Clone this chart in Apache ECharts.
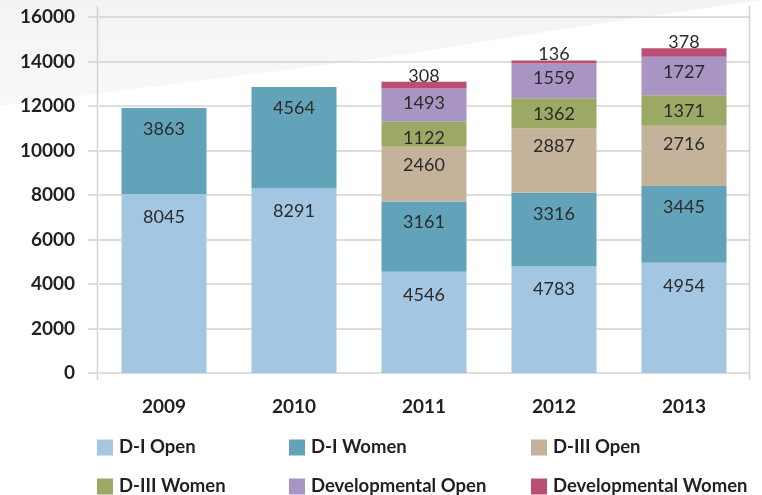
<!DOCTYPE html>
<html>
<head>
<meta charset="utf-8">
<script src="https://cdn.jsdelivr.net/npm/echarts@6/dist/echarts.min.js"></script>
<style>
  html, body { margin: 0; padding: 0; background: #ffffff; }
  #chart { width: 762px; height: 495px; }
</style>
</head>
<body>
<div id="chart"></div>
<script>
// data
const years = ["2009", "2010", "2011", "2012", "2013"];
const d1Open = [8045, 8291, 4546, 4783, 4954];
const d1Women = [3863, 4564, 3161, 3316, 3445];
const d3Open = [null, null, 2460, 2887, 2716];
const d3Women = [null, null, 1122, 1362, 1371];
const devOpen = [null, null, 1493, 1559, 1727];
const devWomen = [null, null, 308, 136, 378];
const yTicks = [0, 2000, 4000, 6000, 8000, 10000, 12000, 14000, 16000];

const font = "Lato, 'Open Sans', sans-serif";
const gridColor = "#d2d2d2";

const myChart = echarts.init(document.getElementById("chart"));

// one stacked bar series, label inside near the top of its block
const makeSeries = (name, data, color, dist) => ({
    name: name,
    type: "bar",
    stack: "total",
    barWidth: 85,
    data: data,
    itemStyle: { color: color },
    label: {
        show: true,
        position: "insideTop",
        distance: dist,
        color: "#2b2b2b",
        fontFamily: font,
        fontSize: 18,
        fontWeight: 400
    },
    emphasis: { disabled: true }
});

const devWomenSeries = makeSeries("Developmental Women", devWomen, "#B94F72", 0);
devWomenSeries.label.position = "top";
devWomenSeries.label.distance = -3;

// legend is laid out like a 3x2 table, one small legend per cell
const legendCell = (name, left, top) => ({
    left: left,
    top: top,
    padding: 0,
    itemWidth: 16,
    itemHeight: 16,
    icon: "rect",
    selectedMode: false,
    data: [name],
    textStyle: {
        fontFamily: font,
        fontSize: 18.5,
        fontWeight: "bold",
        color: "#231f20",
        padding: [0, 0, 0, 1]
    }
});

const option = {
    animation: false,
    backgroundColor: "#ffffff",
    graphic: [
        {
            // soft grey swoosh behind the plot
            type: "polygon",
            z: -10,
            silent: true,
            shape: {
                points: [[0, 0], [762, 0], [762, 0], [570, 28], [380, 58], [190, 82], [0, 106]]
            },
            style: {
                fill: {
                    type: "linear", x: 0, y: 0, x2: 0, y2: 1,
                    colorStops: [
                        { offset: 0, color: "#f3f3f3" },
                        { offset: 1, color: "#f9f9f9" }
                    ]
                }
            }
        },
        {
            type: "line", z: 1, silent: true,
            shape: { x1: 97.5, y1: 6, x2: 97.5, y2: 380 },
            style: { stroke: gridColor, lineWidth: 1.5 }
        },
        {
            type: "line", z: 1, silent: true,
            shape: { x1: 749.5, y1: 6, x2: 749.5, y2: 380 },
            style: { stroke: gridColor, lineWidth: 1.5 }
        }
    ],
    grid: {
        left: 99,
        right: 13,
        top: 17,
        bottom: 122,
        containLabel: false
    },
    legend: [
        legendCell("D-I Open", 97, 438),
        legendCell("D-I Women", 289, 438),
        legendCell("D-III Open", 531, 438),
        legendCell("D-III Women", 97, 477),
        legendCell("Developmental Open", 289, 477),
        legendCell("Developmental Women", 531, 477)
    ],
    xAxis: {
        type: "category",
        data: years,
        axisLine: { show: false },
        axisTick: { show: false },
        axisLabel: {
            margin: 24,
            fontFamily: font,
            fontSize: 19,
            fontWeight: "bold",
            color: "#231f20"
        }
    },
    yAxis: {
        type: "value",
        min: yTicks[0],
        max: yTicks[yTicks.length - 1],
        interval: 2000,
        offset: 2,
        axisLine: { show: false },
        axisTick: {
            show: true,
            length: 9,
            lineStyle: { color: gridColor, width: 1.5 }
        },
        splitLine: { lineStyle: { color: gridColor, width: 1.5 } },
        axisLabel: {
            margin: 22,
            formatter: (v) => String(v),
            fontFamily: font,
            fontSize: 19,
            fontWeight: "bold",
            color: "#231f20"
        }
    },
    series: [
        makeSeries("D-I Open", d1Open, "#A3C6E2", 14),
        makeSeries("D-I Women", d1Women, "#62A3BA", 12),
        makeSeries("D-III Open", d3Open, "#C4B39A", 9),
        makeSeries("D-III Women", d3Women, "#9CA965", 7),
        makeSeries("Developmental Open", devOpen, "#A995C3", 6),
        devWomenSeries
    ]
};

myChart.setOption(option);
window.addEventListener("resize", () => myChart.resize());
</script>
</body>
</html>
